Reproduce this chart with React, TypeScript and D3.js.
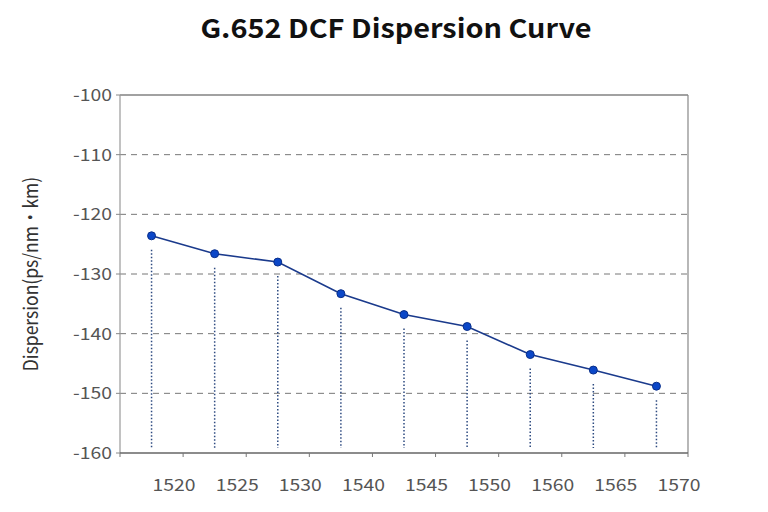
import React from "react";
import * as d3 from "d3";

const categories = ["1520", "1525", "1530", "1540", "1545", "1550", "1560", "1565", "1570"];
const dispersion = [-123.6, -126.6, -128.0, -133.3, -136.8, -138.8, -143.5, -146.1, -148.8];
const yTicks = [-100, -110, -120, -130, -140, -150, -160];

const W = 768;
const H = 512;
const M = { left: 120, right: 688, top: 95, bottom: 453 };
const FONT = "'Noto Sans CJK SC', 'Noto Sans', sans-serif";
const SX = 1.14;

export default function App() {
  const x = d3.scaleBand<string>().domain(categories).range([M.left, M.right]).padding(0);
  const y = d3.scaleLinear().domain([-160, -100]).range([M.bottom, M.top]);
  const cx = (c: string) => (x(c) as number) + x.bandwidth() / 2;
  const line = d3
    .line<number>()
    .x((_, i) => cx(categories[i]))
    .y((d) => y(d));
  const boundaries = categories.map((c) => x(c) as number).concat([M.right]);

  return (
    <svg width={W} height={H} style={{ position: "absolute", left: 0, top: 0, background: "#fff" }}>
      <text
        transform={`translate(396,38) scale(1.11,1)`}
        textAnchor="middle"
        fontFamily={FONT}
        fontWeight="bold"
        fontSize={26}
        fill="#111"
      >
        G.652 DCF Dispersion Curve
      </text>
      {/* grid lines */}
      {yTicks
        .filter((t) => t !== -100 && t !== -160)
        .map((t) => (
          <line key={t} x1={M.left} x2={M.right} y1={y(t)} y2={y(t)} stroke="#777" strokeWidth={1} strokeDasharray="6,5" />
        ))}
      <line x1={M.left} x2={M.right} y1={y(-100)} y2={y(-100)} stroke="#444" strokeWidth={1.2} />
      <line x1={M.right} x2={M.right} y1={M.top} y2={M.bottom} stroke="#888" strokeWidth={1.2} />
      <line x1={M.left} x2={M.left} y1={M.top} y2={M.bottom} stroke="#999" strokeWidth={1.2} />
      <line x1={M.left} x2={M.right} y1={M.bottom} y2={M.bottom} stroke="#666" strokeWidth={1.5} />
      {/* y ticks */}
      {yTicks.map((t) => (
        <g key={t}>
          <line x1={M.left - 4} x2={M.left} y1={y(t)} y2={y(t)} stroke="#888" />
          <text
            transform={`translate(${M.left - 8},${y(t)}) scale(${SX},1)`}
            dy="0.35em"
            textAnchor="end"
            fontFamily={FONT}
            fontSize={17}
            fill="#555"
          >
            {t}
          </text>
        </g>
      ))}
      {/* x ticks */}
      {boundaries.map((b, i) => (
        <line key={i} x1={b} x2={b} y1={M.bottom} y2={M.bottom + 4} stroke="#777" />
      ))}
      {categories.map((c) => (
        <text
          key={c}
          transform={`translate(${cx(c) + 1},491) scale(${SX},1)`}
          textAnchor="start"
          fontFamily={FONT}
          fontSize={17}
          fill="#555"
        >
          {c}
        </text>
      ))}
      <text
        transform={`translate(38,${(M.top + M.bottom) / 2}) scale(${SX},1) rotate(-90)`}
        textAnchor="middle"
        fontFamily={FONT}
        fontSize={17.5}
        fill="#333"
      >
        Dispersion(ps/nm·km)
      </text>
      {/* drop lines */}
      {dispersion.map((v, i) => (
        <line
          key={i}
          x1={cx(categories[i])}
          x2={cx(categories[i])}
          y1={y(v) + 14}
          y2={M.bottom - 5}
          stroke="#2d4a80"
          strokeWidth={1.5}
          strokeDasharray="1.5,2"
        />
      ))}
      <path d={line(dispersion) as string} fill="none" stroke="#1a3a8c" strokeWidth={1.6} />
      {dispersion.map((v, i) => (
        <circle key={i} cx={cx(categories[i])} cy={y(v)} r={4} fill="#0b47c8" stroke="#0a2f8a" strokeWidth={1} />
      ))}
    </svg>
  );
}
